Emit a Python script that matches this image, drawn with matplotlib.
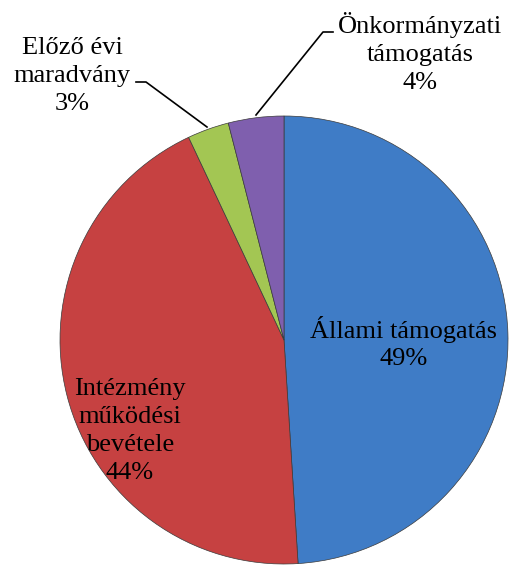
import matplotlib
matplotlib.use("Agg")
import matplotlib.pyplot as plt

labels = ["Állami támogatás", "Intézmény\nműködési\nbevétele", "Előző évi\nmaradvány", "Önkormányzati\ntámogatás"]
shares = [49, 44, 3, 4]
colors = ["#3F7CC6", "#C64141", "#A3C653", "#7F5FAE"]

W, H = 510, 565
fig = plt.figure(figsize=(W / 100, H / 100), dpi=100)
ax = fig.add_axes([0, 0, 1, 1])

def py(y):
    # pixel row (top origin) -> data y
    return H - y

cx, cy, r = 284, py(340), 224
ax.pie(shares, colors=colors, startangle=90, counterclock=False,
       center=(cx, cy), radius=r, frame=True,
       wedgeprops=dict(edgecolor="#3a3a3a", linewidth=0.5))
ax.set_xlim(0, W)
ax.set_ylim(0, H)
ax.set_aspect("equal")
ax.axis("off")

font = dict(family="Liberation Serif", fontsize=19, color="black",
            ha="center", va="center", linespacing=1.35)

ax.text(404, py(343), f"{labels[0]}\n{shares[0]}%", **font)
ax.text(130, py(431), f"{labels[1]}\n{shares[1]}%", **font)
ax.text(72, py(76), f"{labels[2]}\n{shares[2]}%", **font)
ax.text(420, py(53), f"{labels[3]}\n{shares[3]}%", **font)

# leader lines
ax.plot([136, 146, 207], [py(82), py(82), py(127)], color="black", lw=1.2)
ax.plot([333, 323, 256], [py(32), py(32), py(115)], color="black", lw=1.2)

fig.savefig("out.png", dpi=100)
